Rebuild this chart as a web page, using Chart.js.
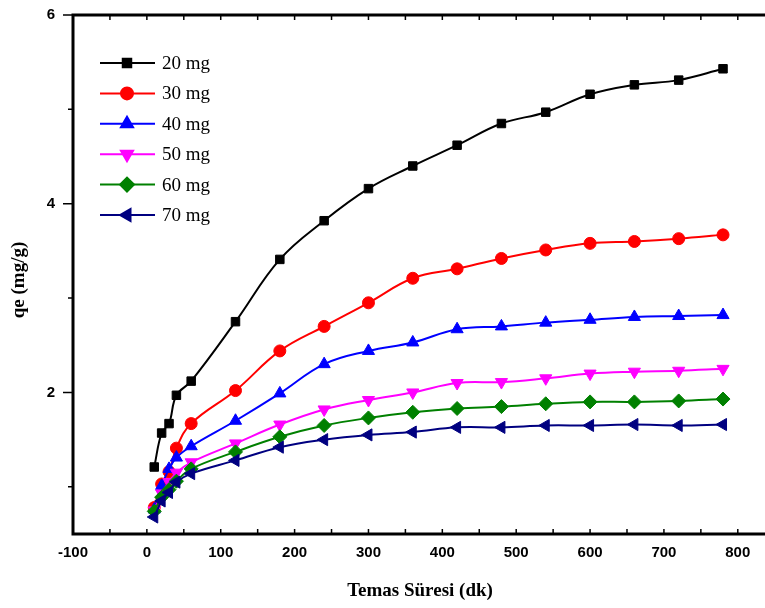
<!DOCTYPE html>
<html>
<head>
<meta charset="utf-8">
<script src="https://cdn.jsdelivr.net/npm/chart.js@4.4.0/dist/chart.umd.min.js"></script>
<style>
  html, body { margin: 0; padding: 0; background: #fff; overflow: hidden; }
  #wrap { width: 765px; height: 608px; }
</style>
</head>
<body>
<div id="wrap"><canvas id="c" width="765" height="608"></canvas></div>
<script>
// contact time (dk)
const time = [10, 20, 30, 40, 60, 120, 180, 240, 300, 360, 420, 480, 540, 600, 660, 720, 780];
// qe (mg/g) per adsorbent dose
const q20 = [1.21, 1.57, 1.67, 1.97, 2.12, 2.75, 3.41, 3.82, 4.16, 4.40, 4.62, 4.85, 4.97, 5.16, 5.26, 5.31, 5.43];
const q30 = [0.78, 1.03, 1.16, 1.41, 1.67, 2.02, 2.44, 2.70, 2.95, 3.21, 3.31, 3.42, 3.51, 3.58, 3.60, 3.63, 3.67];
const q40 = [0.76, 1.01, 1.19, 1.31, 1.43, 1.70, 1.99, 2.30, 2.44, 2.53, 2.67, 2.70, 2.74, 2.77, 2.80, 2.81, 2.82];
const q50 = [0.75, 0.93, 1.05, 1.15, 1.26, 1.46, 1.66, 1.82, 1.92, 2.00, 2.10, 2.11, 2.15, 2.20, 2.22, 2.23, 2.25];
const q60 = [0.74, 0.89, 0.97, 1.06, 1.19, 1.37, 1.53, 1.65, 1.73, 1.79, 1.83, 1.85, 1.88, 1.90, 1.90, 1.91, 1.93];
const q70 = [0.68, 0.85, 0.94, 1.05, 1.14, 1.28, 1.42, 1.50, 1.55, 1.58, 1.63, 1.63, 1.65, 1.65, 1.66, 1.65, 1.66];

const seriesLabels = ['20 mg', '30 mg', '40 mg', '50 mg', '60 mg', '70 mg'];
const xTicks = [-100, 0, 100, 200, 300, 400, 500, 600, 700, 800];
const yTicks = [2, 4, 6];

const series = [q20, q30, q40, q50, q60, q70];
const colors = ['#000000', '#ff0000', '#0000ff', '#ff00ff', '#008000', '#000080'];
const styles = ['rect', 'circle', 'triangle', 'triangle', 'rectRot', 'triangle'];
const rots = [0, 0, 0, 180, 0, 270];
const radii = [6, 6, 7, 7, 7, 7];

const datasets = series.map((s, i) => ({
    label: seriesLabels[i],
    data: time.map((t, j) => ({x: t, y: s[j]})),
    borderColor: colors[i],
    backgroundColor: colors[i],
    borderWidth: 2,
    pointStyle: styles[i],
    rotation: rots[i],
    pointRadius: radii[i],
    pointBorderWidth: 1,
    tension: 0.4,
    order: 5 - i
}));

const tickFont = 'bold 15px "Liberation Sans", Arial, sans-serif';

const frame = {
    id: 'frame',
    afterDraw(chart) {
        const ctx = chart.ctx;
        const a = chart.chartArea;
        const xs = chart.scales.x, ys = chart.scales.y;
        const right = chart.width;  // the axes run off the picture's right edge
        ctx.save();
        ctx.strokeStyle = '#000';
        ctx.lineWidth = 3;
        ctx.beginPath();
        ctx.moveTo(a.left, a.top);
        ctx.lineTo(right, a.top);
        ctx.moveTo(a.left, a.top - 1.5);
        ctx.lineTo(a.left, a.bottom + 1.5);
        ctx.moveTo(a.left, a.bottom);
        ctx.lineTo(right, a.bottom);
        ctx.stroke();

        // x ticks, inward on bottom and top
        ctx.lineWidth = 1.5;
        ctx.beginPath();
        for (let v = -100; v <= 900; v += 50) {
            const px = xs.getPixelForValue(v);
            if (px > right) break;
            ctx.moveTo(px, a.bottom); ctx.lineTo(px, a.bottom - 5);
            ctx.moveTo(px, a.top); ctx.lineTo(px, a.top + 5);
        }
        // y ticks, outward on left
        for (let v = 1; v <= 6; v += 1) {
            const py = ys.getPixelForValue(v);
            const len = (v % 2 === 0) ? 10 : 5;
            ctx.moveTo(a.left, py); ctx.lineTo(a.left - len, py);
        }
        ctx.stroke();

        // tick labels
        ctx.fillStyle = '#000';
        ctx.font = tickFont;
        ctx.textAlign = 'center';
        ctx.textBaseline = 'middle';
        xTicks.forEach(v => ctx.fillText(String(v), xs.getPixelForValue(v), 553));
        ctx.textAlign = 'right';
        yTicks.forEach(v => ctx.fillText(String(v), 55, ys.getPixelForValue(v)));

        // axis titles
        ctx.font = 'bold 19px "Liberation Serif", "Times New Roman", serif';
        ctx.textAlign = 'center';
        ctx.fillText('Temas Süresi (dk)', 420, 591);
        ctx.save();
        ctx.translate(19, 280);
        ctx.rotate(-Math.PI / 2);
        ctx.fillText('qe (mg/g)', 0, 0);
        ctx.restore();

        // legend
        ctx.font = '19px "Liberation Serif", "Times New Roman", serif';
        ctx.textAlign = 'left';
        for (let i = 0; i < seriesLabels.length; i++) {
            const y = 63 + i * 30.4;
            ctx.strokeStyle = colors[i];
            ctx.lineWidth = 2;
            ctx.beginPath();
            ctx.moveTo(100, y); ctx.lineTo(155, y);
            ctx.stroke();
            ctx.fillStyle = colors[i];
            Chart.helpers.drawPoint(ctx, {
                pointStyle: styles[i], rotation: rots[i], radius: radii[i], borderWidth: 1
            }, 127, y);
            ctx.fillStyle = '#000';
            ctx.fillText(seriesLabels[i], 162, y + 1);
        }
        ctx.restore();
    }
};

new Chart(document.getElementById('c').getContext('2d'), {
    type: 'line',
    data: { datasets: datasets },
    options: {
        responsive: false,
        animation: false,
        layout: { padding: { top: 15, right: 0, left: 0, bottom: 0 } },
        plugins: { legend: { display: false }, tooltip: { enabled: false } },
        scales: {
            x: {
                type: 'linear',
                min: -100, max: 826,
                grid: { display: false },
                border: { display: false },
                ticks: { display: false },
                afterFit: (s) => { s.height = 74; }
            },
            y: {
                min: 0.5, max: 6,
                grid: { display: false },
                border: { display: false },
                ticks: { display: false },
                afterFit: (s) => { s.width = 73; }
            }
        }
    },
    plugins: [frame]
});
</script>
</body>
</html>
